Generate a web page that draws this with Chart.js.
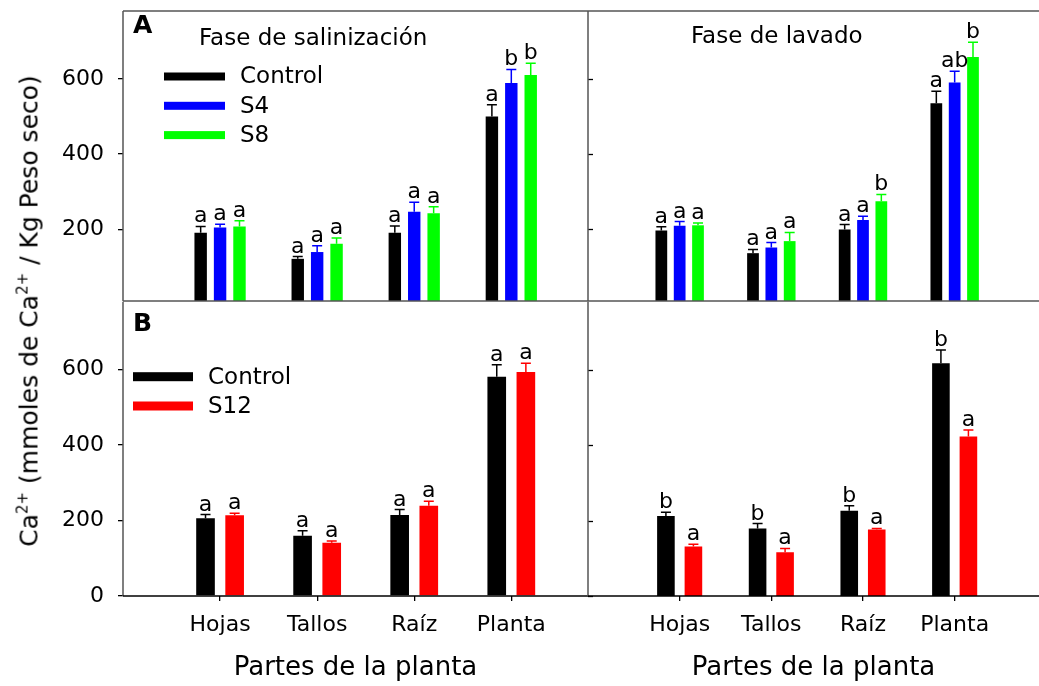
<!DOCTYPE html>
<html>
<head>
<meta charset="utf-8">
<script src="https://cdn.jsdelivr.net/npm/chart.js@4.4.1/dist/chart.umd.min.js"></script>
<style>
  html, body { margin: 0; padding: 0; background: #fff; }
  #page { position: relative; width: 1039px; height: 686px; overflow: hidden; font-family: 'DejaVu Sans', sans-serif; }
  canvas { position: absolute; }
  #ytitle { position: absolute; left: 29px; top: 311px; transform: translate(-50%, -50%) rotate(-90deg);
            white-space: nowrap; font-size: 25px; line-height: 1; color: #000; }
  #ytitle .sup { font-size: 15px; position: relative; top: -10px; }
</style>
</head>
<body>
<div id="page">
  <canvas id="tl" width="592" height="305" style="left:0;top:0"></canvas>
  <canvas id="tr" width="455" height="305" style="left:584px;top:0"></canvas>
  <canvas id="bl" width="592" height="389" style="left:0;top:297px"></canvas>
  <canvas id="br" width="455" height="389" style="left:584px;top:297px"></canvas>
  <div id="ytitle">Ca<span class="sup">2+</span> (mmoles de Ca<span class="sup">2+</span> / Kg Peso seco)</div>
</div>
<script>
// categories and axis ticks
const parts = ['Hojas', 'Tallos', 'Raíz', 'Planta'];
const partTicks = [1, 2, 3, 4];
const topTicks = [200, 400, 600];
const bottomTicks = [0, 200, 400, 600];

// A - Fase de salinización
const salControl = [191, 122, 191, 500];
const salControlErr = [17, 6, 18, 31];
const salControlLet = ['a', 'a', 'a', 'a'];
const salS4 = [205, 140, 247, 589];
const salS4Err = [9, 17, 25, 36];
const salS4Let = ['a', 'a', 'a', 'b'];
const salS8 = [208, 162, 243, 610];
const salS8Err = [15, 15, 17, 31];
const salS8Let = ['a', 'a', 'a', 'b'];

// A - Fase de lavado
const lavControl = [197, 137, 200, 535];
const lavControlErr = [10, 10, 13, 32];
const lavControlLet = ['a', 'a', 'a', 'a'];
const lavS4 = [210, 152, 225, 590];
const lavS4Err = [11, 13, 10, 30];
const lavS4Let = ['a', 'a', 'a', 'ab'];
const lavS8 = [211, 169, 275, 658];
const lavS8Err = [6, 23, 18, 39];
const lavS8Let = ['a', 'a', 'b', 'b'];

// B - Fase de salinización
const bSalControl = [206, 160, 215, 581];
const bSalControlErr = [10, 13, 14, 32];
const bSalControlLet = ['a', 'a', 'a', 'a'];
const bSalS12 = [214, 141, 239, 594];
const bSalS12Err = [5, 5, 12, 23];
const bSalS12Let = ['a', 'a', 'a', 'a'];

// B - Fase de lavado
const bLavControl = [212, 179, 226, 617];
const bLavControlErr = [10, 13, 13, 35];
const bLavControlLet = ['b', 'b', 'b', 'b'];
const bLavS12 = [131, 116, 176, 423];
const bLavS12Err = [6, 10, 3, 17];
const bLavS12Let = ['a', 'a', 'a', 'a'];

const FONT = "'DejaVu Sans', sans-serif";
const FRAME = '#555555';

function bars(label, color, values, errors, letters) {
  return {
    label: label,
    data: values.map((v, i) => ({ x: partTicks[i], y: v })),
    backgroundColor: color,
    errors: errors,
    letters: letters,
    barPercentage: 0.64,
    categoryPercentage: 0.6
  };
}

// error bars, letters, frame, legend and titles
const panelPlugin = {
  id: 'panel',
  afterDatasetsDraw(chart, args, opts) {
    const ctx = chart.ctx;
    const area = chart.chartArea;
    const yScale = chart.scales.y;
    ctx.save();

    chart.data.datasets.forEach((ds, di) => {
      const meta = chart.getDatasetMeta(di);
      meta.data.forEach((bar, j) => {
        const yTop = yScale.getPixelForValue(ds.data[j].y + ds.errors[j]);
        ctx.strokeStyle = ds.backgroundColor;
        ctx.lineWidth = 1.5;
        ctx.beginPath();
        ctx.moveTo(bar.x, bar.y);
        ctx.lineTo(bar.x, yTop);
        ctx.moveTo(bar.x - 5, yTop);
        ctx.lineTo(bar.x + 5, yTop);
        ctx.stroke();
        ctx.fillStyle = '#000';
        ctx.font = '22px ' + FONT;
        ctx.textAlign = 'center';
        ctx.textBaseline = 'alphabetic';
        ctx.fillText(ds.letters[j], bar.x, yTop - 4);
      });
    });

    // inward ticks on the right panels
    if (opts.innerTicks) {
      ctx.strokeStyle = '#000';
      ctx.lineWidth = 1.3;
      yScale.ticks.forEach(t => {
        const py = Math.round(yScale.getPixelForValue(t.value)) + 0.5;
        ctx.beginPath();
        ctx.moveTo(area.left, py);
        ctx.lineTo(area.left + 5, py);
        ctx.stroke();
      });
    }

    // frame
    ctx.lineWidth = 1.5;
    const edges = opts.edges || [];
    edges.forEach(e => {
      ctx.strokeStyle = (e === 'bottom' && opts.blackBottom) ? '#000' : FRAME;
      ctx.beginPath();
      if (e === 'top') { ctx.moveTo(area.left, area.top); ctx.lineTo(area.right, area.top); }
      if (e === 'bottom') { ctx.moveTo(area.left, area.bottom); ctx.lineTo(area.right, area.bottom); }
      if (e === 'left') { ctx.moveTo(area.left, area.top); ctx.lineTo(area.left, area.bottom); }
      if (e === 'right') { ctx.moveTo(area.right, area.top); ctx.lineTo(area.right, area.bottom); }
      ctx.stroke();
    });

    // legend
    if (opts.legend) {
      const lg = opts.legend;
      ctx.font = '23px ' + FONT;
      ctx.textAlign = 'left';
      ctx.textBaseline = 'middle';
      chart.data.datasets.forEach((ds, i) => {
        const cy = lg.y + i * lg.dy;
        ctx.fillStyle = ds.backgroundColor;
        ctx.fillRect(lg.x, cy - lg.h / 2, lg.w, lg.h);
        ctx.fillStyle = '#000';
        ctx.fillText(ds.label, lg.tx, cy + 1);
      });
    }

    ctx.fillStyle = '#000';
    ctx.textAlign = 'left';
    ctx.textBaseline = 'alphabetic';
    if (opts.title) {
      ctx.font = '23px ' + FONT;
      ctx.fillText(opts.title.text, opts.title.x, opts.title.y);
    }
    if (opts.tag) {
      ctx.font = 'bold 25px ' + FONT;
      ctx.fillText(opts.tag.text, opts.tag.x, opts.tag.y);
    }
    ctx.restore();
  }
};

function makeChart(id, cfg) {
  return new Chart(document.getElementById(id), {
    type: 'bar',
    data: { datasets: cfg.datasets },
    options: {
      responsive: false,
      animation: false,
      layout: { padding: cfg.padding },
      scales: {
        x: {
          type: 'linear',
          min: 0,
          max: cfg.xMax,
          offset: false,
          display: cfg.showX,
          afterBuildTicks: s => { s.ticks = partTicks.map(v => ({ value: v })); },
          afterFit: s => {
            if (cfg.showX) s.height = 90;
            s.paddingLeft = 0; s.paddingRight = 0; s.paddingTop = 0; s.paddingBottom = 0;
          },
          grid: { offset: false, drawOnChartArea: false, drawTicks: true, tickLength: 5, color: '#000', lineWidth: 1.3 },
          border: { display: false },
          ticks: {
            callback: v => parts[v - 1],
            font: { family: FONT, size: 22 },
            color: '#000',
            padding: 11,
            maxRotation: 0,
            autoSkip: false
          },
          title: {
            display: true,
            text: 'Partes de la planta',
            font: { family: FONT, size: 26 },
            color: '#000',
            padding: { top: 0, bottom: 2 }
          }
        },
        y: {
          min: cfg.yMin,
          max: 780,
          beginAtZero: false,
          display: cfg.showY,
          afterBuildTicks: s => { s.ticks = cfg.yTicks.map(v => ({ value: v })); },
          afterFit: s => {
            if (cfg.showY) s.width = 123;
            s.paddingLeft = 0; s.paddingRight = 0; s.paddingTop = 0; s.paddingBottom = 0;
          },
          grid: { drawOnChartArea: false, drawTicks: true, tickLength: 5, color: '#000', lineWidth: 1.3 },
          border: { display: false },
          ticks: { font: { family: FONT, size: 22 }, color: '#000', padding: 14 }
        }
      },
      plugins: {
        legend: { display: false },
        tooltip: { enabled: false },
        panel: cfg.panel
      }
    },
    plugins: [panelPlugin]
  });
}

makeChart('tl', {
  datasets: [
    bars('Control', '#000000', salControl, salControlErr, salControlLet),
    bars('S4', '#0000ff', salS4, salS4Err, salS4Let),
    bars('S8', '#00ff00', salS8, salS8Err, salS8Let)
  ],
  padding: { top: 11, right: 4, bottom: 4, left: 0 },
  xMax: 4.79, yMin: 10, yTicks: topTicks, showX: false, showY: true,
  panel: {
    edges: ['top', 'left', 'bottom'],
    legend: { x: 164, y: 76.5, dy: 29.3, w: 61, h: 8, tx: 240 },
    title: { text: 'Fase de salinización', x: 199, y: 45 },
    tag: { text: 'A', x: 133, y: 33 }
  }
});

makeChart('tr', {
  datasets: [
    bars('Control', '#000000', lavControl, lavControlErr, lavControlLet),
    bars('S4', '#0000ff', lavS4, lavS4Err, lavS4Let),
    bars('S8', '#00ff00', lavS8, lavS8Err, lavS8Let)
  ],
  padding: { top: 11, right: 0, bottom: 4, left: 4 },
  xMax: 4.92, yMin: 10, yTicks: topTicks, showX: false, showY: false,
  panel: {
    edges: ['top', 'left', 'bottom'],
    innerTicks: true,
    title: { text: 'Fase de lavado', x: 107, y: 42.5 }
  }
});

makeChart('bl', {
  datasets: [
    bars('Control', '#000000', bSalControl, bSalControlErr, bSalControlLet),
    bars('S12', '#ff0000', bSalS12, bSalS12Err, bSalS12Let)
  ],
  padding: { top: 4.7, right: 4, bottom: 0, left: 0 },
  xMax: 4.79, yMin: 0, yTicks: bottomTicks, showX: true, showY: true,
  panel: {
    edges: ['left', 'bottom'],
    blackBottom: true,
    legend: { x: 133, y: 79.7, dy: 29.3, w: 60, h: 9, tx: 208 },
    tag: { text: 'B', x: 133, y: 33.7 }
  }
});

makeChart('br', {
  datasets: [
    bars('Control', '#000000', bLavControl, bLavControlErr, bLavControlLet),
    bars('S12', '#ff0000', bLavS12, bLavS12Err, bLavS12Let)
  ],
  padding: { top: 4.7, right: 0, bottom: 0, left: 4 },
  xMax: 4.92, yMin: 0, yTicks: bottomTicks, showX: true, showY: false,
  panel: {
    edges: ['left', 'bottom'],
    blackBottom: true,
    innerTicks: true
  }
});
</script>
</body>
</html>
